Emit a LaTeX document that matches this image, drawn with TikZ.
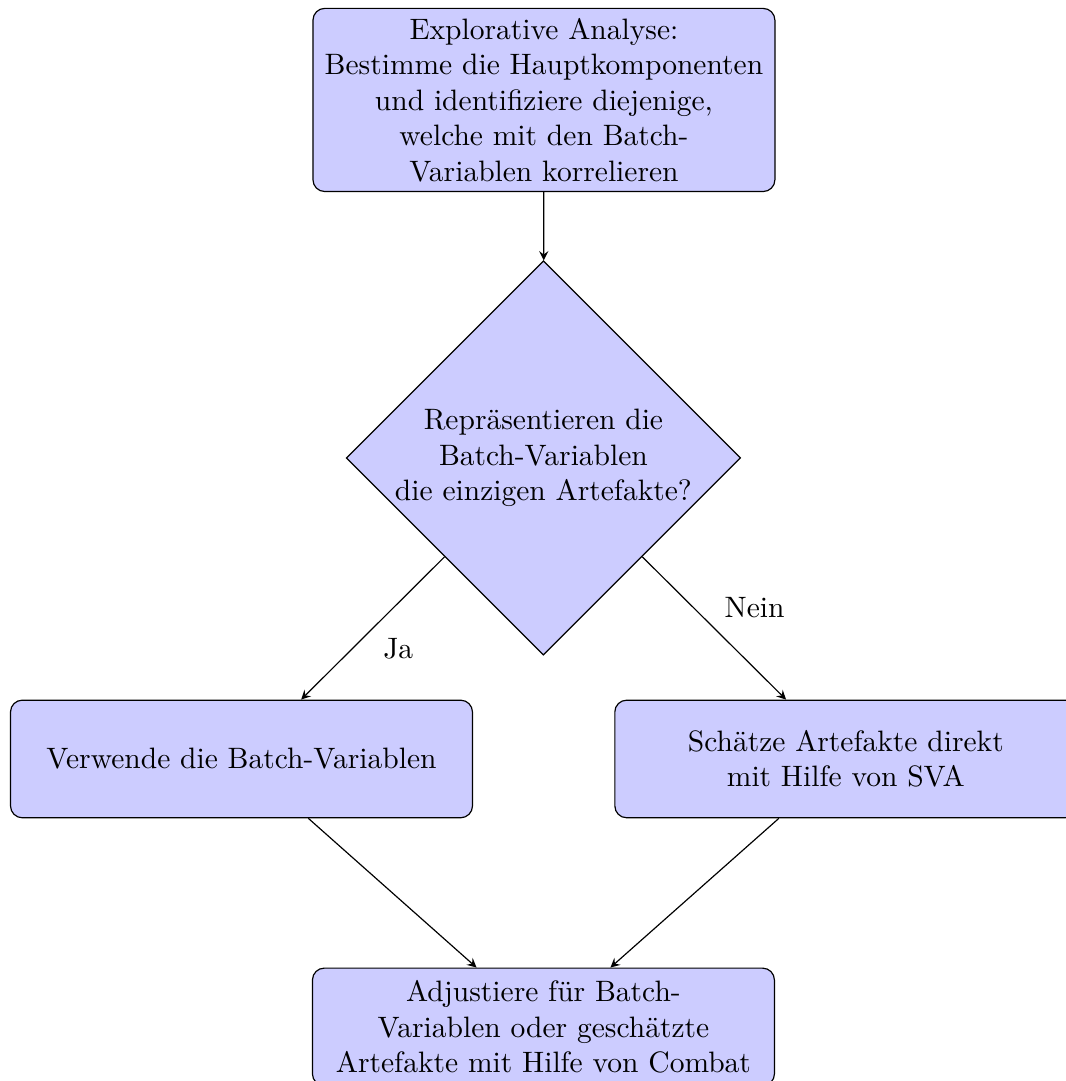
\documentclass[tikz,border=0pt]{standalone}
\usepackage{amsmath}
\usepackage{tikz}
\usetikzlibrary{arrows}
\usetikzlibrary{shapes.geometric}

\begin{document}
\begin{tikzpicture}
        [
            > = stealth,
            box/.style = {rectangle, rounded corners, draw=black, fill=blue!20, align=center, minimum width=5.5cm, minimum height=1.4cm},
            decision/.style = {diamond, draw=black, fill=blue!20, align=center, inner sep=0pt, minimum width=4.68cm, minimum height=4.67cm}
        ]
        \useasboundingbox (0, 0) rectangle (12.69, -12.87);

        \node [box] at (6.476, -1.19) (explore) {Explorative Analyse:\\Bestimme die Hauptkomponenten\\und identifiziere diejenige,\\welche mit den Batch-\\Variablen korrelieren};
        \node [decision] at (6.47, -5.452) (decide) {Repräsentieren die\\Batch-Variablen\\die einzigen Artefakte?};
        \node [box] at (2.875, -9.036) (batch) {Verwende die Batch-Variablen};
        \node [box] at (10.07, -9.036) (sva) {Schätze Artefakte direkt\\mit Hilfe von SVA};
        \node [box] at (6.47, -12.226) (combat) {Adjustiere für Batch-\\Variablen oder geschätzte\\Artefakte mit Hilfe von Combat};

        \draw[->] (explore) -- (decide);
        \draw[->] (decide.south west) -- node[below right] {Ja} (batch);
        \draw[->] (decide.south east) -- node[above right] {Nein} (sva);
        \draw[->] (batch) -- (combat);
        \draw[->] (sva) -- (combat);
    \end{tikzpicture}
\end{document}
